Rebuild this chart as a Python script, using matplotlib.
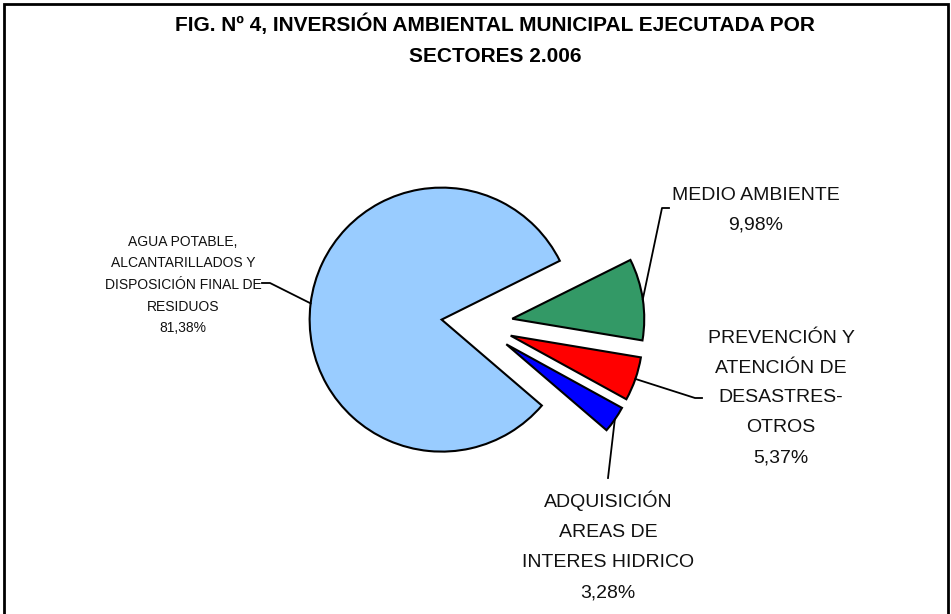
import numpy as np
import matplotlib
matplotlib.use("Agg")
import matplotlib.pyplot as plt
from matplotlib.patches import Rectangle

# Datos del gráfico
sectores = [
    "AGUA POTABLE,\nALCANTARILLADOS Y\nDISPOSICIÓN FINAL DE\nRESIDUOS",
    "MEDIO AMBIENTE",
    "PREVENCIÓN Y\nATENCIÓN DE\nDESASTRES-\nOTROS",
    "ADQUISICIÓN\nAREAS DE\nINTERES HIDRICO",
]
porcentajes = [81.38, 9.98, 5.37, 3.28]
colores = ["#99CCFF", "#339966", "#FF0000", "#0000FF"]
separacion = [0.27, 0.27, 0.27, 0.27]  # fracción del radio

titulo = "FIG. Nº 4, INVERSIÓN AMBIENTAL MUNICIPAL EJECUTADA POR\nSECTORES 2.006"

W, H = 951, 614
radio = 132
plt.rcParams['font.family'] = ['Liberation Sans', 'DejaVu Sans']

fig = plt.figure(figsize=(W / 100, H / 100), dpi=100)
ax = fig.add_axes([0, 0, 1, 1])


def Y(y):
    # coordenada vertical desde arriba (como en la imagen)
    return H - y


wedges, _ = ax.pie(porcentajes, colors=colores,
                   explode=[e * radio for e in separacion],
                   startangle=-40.6, counterclock=False,
                   center=(477, Y(324)), radius=radio,
                   wedgeprops=dict(edgecolor="black", linewidth=1.5))
ax.set_xlim(0, W)
ax.set_ylim(0, H)
ax.set_aspect("equal")
ax.axis("off")

# posiciones de etiquetas y líneas guía (coordenadas de imagen)
pos_texto = [(183, 285), (756, 210), (781, 398), (608, 546)]
codos = [[(270, 283), (262, 283)],
         [(662, 208), (669, 208)],
         [(695, 398), (702, 398)],
         [(608, 478)]]
tam_fuente = [10, 14, 14, 14]
espaciado = [1.7, 1.95, 1.99, 1.99]

for w, nombre, pct, (tx, ty), codo, fs, ls in zip(wedges, sectores, porcentajes,
                                                  pos_texto, codos, tam_fuente, espaciado):
    ang = np.deg2rad((w.theta1 + w.theta2) / 2)
    cx, cy = w.center
    px = cx + w.r * np.cos(ang)
    py = cy + w.r * np.sin(ang)
    xs = [px] + [c[0] for c in codo]
    ys = [py] + [Y(c[1]) for c in codo]
    ax.plot(xs, ys, color="black", linewidth=1.3)
    etiqueta = nombre + "\n" + f"{pct:.2f}%".replace(".", ",")
    ax.text(tx, Y(ty), etiqueta, ha="center", va="center", fontsize=fs,
            linespacing=ls, color="#111111")

ax.text(495, Y(40), titulo, ha="center", va="center", fontsize=15,
        fontweight="bold", linespacing=1.83)

ax.add_patch(Rectangle((4, -10), 944, H - 2 + 10 - 2, fill=False,
                       edgecolor="black", linewidth=2))

fig.savefig("out.png", dpi=100)
